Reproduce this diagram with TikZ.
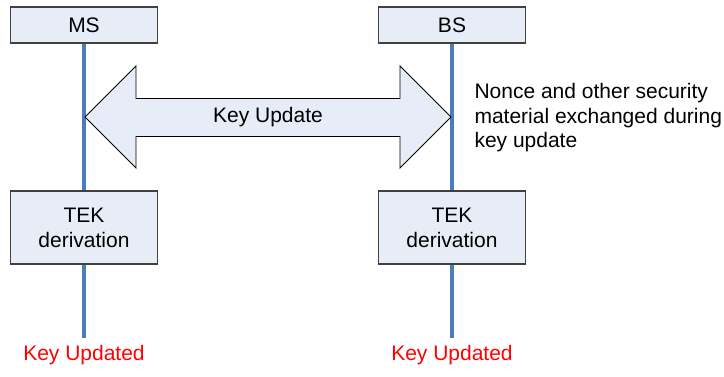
\documentclass[tikz,border=0pt]{standalone}
\usepackage{fontspec}
\setmainfont{Liberation Sans}
\usetikzlibrary{arrows}
\definecolor{boxfill}{HTML}{E7EDF7}
\definecolor{lifeblue}{HTML}{4A7EBB}
\tikzstyle{entity} = [align=center,draw=black!75,line width=1.4pt,fill=boxfill,rectangle,text centered,minimum width=147pt,font=\fontsize{21}{25}\selectfont]
\tikzstyle{lifeline} = [draw=lifeblue,line width=3.2pt]
\tikzstyle{note} = [align=left,font=\fontsize{21}{24.5}\selectfont]
\tikzstyle{result} = [align=center,text=red,font=\fontsize{21}{24}\selectfont]

\begin{document}
\begin{tikzpicture}[x=1pt,y=-1pt]
				\useasboundingbox (0,0) rectangle (724,376);
				\node (ms) [entity,minimum height=36pt] at (84,25) {MS};
				\node (bs) [entity,minimum height=36pt] at (452,25) {BS};
				\node (tekms) [entity,minimum height=73pt] at (84,227.5) {TEK\\derivation};
				\node (tekbs) [entity,minimum height=73pt] at (452,227.5) {TEK\\derivation};
				\coordinate (msend) at (84,338);
				\coordinate (bsend) at (452,338);
				\node (updms) [result] at (84,355.5) {Key Updated};
				\node (updbs) [result] at (452,355.5) {Key Updated};
				\draw [lifeline] (ms) -- (tekms);
				\draw [lifeline] (bs) -- (tekbs);
				\draw [lifeline] (tekms) -- (msend);
				\draw [lifeline] (tekbs) -- (bsend);
				% exchange arrow between the two lifelines
				\draw [fill=boxfill,draw=black,line width=0.9pt] (85,117) -- (136,66) -- (136,98.5) -- (400,98.5) -- (400,66) -- (451,117) -- (400,168) -- (400,136.5) -- (136,136.5) -- (136,168) -- cycle;
				\node (exch) [note,align=center] at (268,117) {Key Update};
				\node (nonce) [note,anchor=west] at (471,118) {Nonce and other security\\material exchanged during\\key update};
			\end{tikzpicture}
\end{document}
